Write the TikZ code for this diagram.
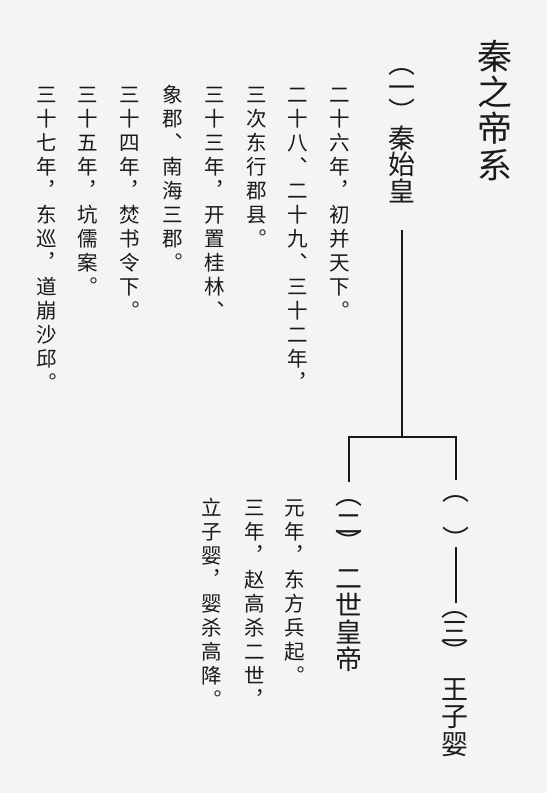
\documentclass[tikz,border=0pt]{standalone}
\usepackage{fontspec}
\newfontfamily\cjk{Noto Sans CJK SC}
\definecolor{paper}{HTML}{F4F4F4}
\definecolor{ink}{HTML}{1A1A1A}
% one vertical column: style, name, x, y of first cell, pitch, characters
\newcommand{\vcol}[6]{%
  \foreach \ch [count=\k from 0] in {#6}
    \node[#1] (#2-\k) at (#3,{#4+\k*#5}) {\ch};}

\begin{document}
\begin{tikzpicture}[x=0.75pt,y=-0.75pt,
  body/.style={inner sep=0pt,text=ink,text height=13.55pt,text depth=1.85pt,
    font=\cjk\fontsize{15.4pt}{16pt}\selectfont},
  kname/.style={inner sep=0pt,text=ink,text height=17.78pt,text depth=2.42pt,
    font=\cjk\fontsize{20.2pt}{21pt}\selectfont},
  heading/.style={inner sep=0pt,text=ink,text height=23.06pt,text depth=3.14pt,
    font=\cjk\fontsize{26.2pt}{27pt}\selectfont},
  num/.style={kname,text height=14.14pt,text depth=-1.21pt},
  opn/.style={kname,text height=3.74pt,text depth=1.31pt},
  cls/.style={kname,text height=16.46pt,text depth=-11.62pt},
  link/.style={line width=1.8pt,draw=ink}]
\fill[paper] (0,0) rectangle (547,793);
% \draw[help lines,step=50] (0,0) grid (547,793);
\vcol{heading}{t}{495}{56}{36.3}{秦,之,帝,系}
%
\node[opn] (p1-o) at (402,72) {︵};
\node[num] (p1-n) at (402,88) {一};
\node[cls] (p1-c) at (402,111) {︶};
\vcol{kname}{q1}{402}{138}{26.5}{秦,始,皇}
%
\vcol{body}{a1}{340}{95}{24}{二,十,六,年,︐,初,并,天,下,︒}
\vcol{body}{a2}{298}{95}{24}{二,十,八,︑,二,十,九,︑,三,十,二,年,︐}
\vcol{body}{a3}{257}{95}{24}{三,次,东,行,郡,县,︒}
\vcol{body}{a4}{215}{95}{24}{三,十,三,年,︐,开,置,桂,林,︑}
\vcol{body}{a5}{173}{95}{24}{象,郡,︑,南,海,三,郡,︒}
\vcol{body}{a6}{130}{95}{24}{三,十,四,年,︐,焚,书,令,下,︒}
\vcol{body}{a7}{88}{95}{24}{三,十,五,年,︐,坑,儒,案,︒}
\vcol{body}{a8}{47}{95}{24}{三,十,七,年,︐,东,巡,︐,道,崩,沙,邱,︒}
%
\node[opn] (p2-o) at (349,503) {︵};
\node[num] (p2-n) at (349,524) {二};
\node[cls] (p2-c) at (349,542) {︶};
\vcol{kname}{q2}{349}{578}{27}{二,世,皇,帝}
%
\vcol{body}{b1}{295}{508}{24}{元,年,︐,东,方,兵,起,︒}
\vcol{body}{b2}{255}{508}{24}{三,年,︐,赵,高,杀,二,世,︐}
\vcol{body}{b3}{212}{508}{24}{立,子,婴,︐,婴,杀,高,降,︒}
%
\node[opn] (p0-o) at (456,499) {︵};
\node[cls] (p0-c) at (456,539) {︶};
\node[opn] (p3-o) at (455,615) {︵};
\node[num] (p3-n) at (455,632) {三};
\node[cls] (p3-c) at (455,652) {︶};
\vcol{kname}{q3}{455}{689}{27.5}{王,子,婴}
%
\coordinate (fork) at (402,437);
\coordinate (lfoot) at (349,482);
\coordinate (rfoot) at (456,480);
\draw[link] (q1-2.center) ++(0,39) -- (fork);
\draw[link] (lfoot) |- (fork) -| (rfoot);
\draw[link] (p0-c.center) ++(0,8) -- ++(0,56);
\end{tikzpicture}
\end{document}
